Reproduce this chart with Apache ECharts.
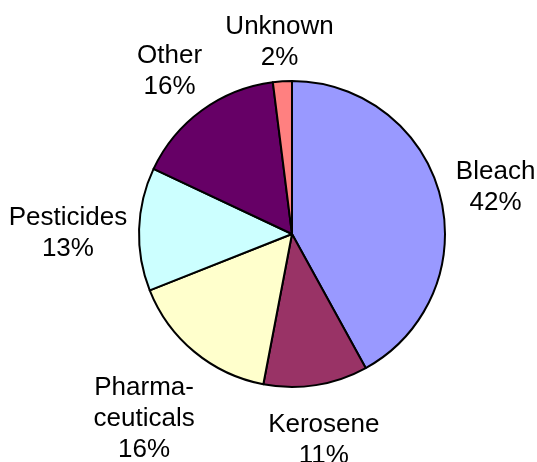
<!DOCTYPE html>
<html style="height: 100%">
<head>
    <meta charset="utf-8">
</head>
<body style="height: 100%; margin: 0; background: #fff">
<div id="container" style="width: 537px; height: 462px"></div>
<script type="text/javascript" src="https://cdn.jsdelivr.net/npm/echarts@6/dist/echarts.min.js"></script>
<script type="text/javascript">
    // data (percent), clockwise from 12 o'clock
    var categories = ['Bleach', 'Kerosene', 'Pharmaceuticals', 'Pesticides', 'Other', 'Unknown'];
    var labelNames = ['Bleach', 'Kerosene', 'Pharma-\nceuticals', 'Pesticides', 'Other', 'Unknown'];
    var values = [42, 11, 16, 13, 16, 2];
    var colors = ['#9999ff', '#993366', '#ffffcc', '#ccffff', '#660066', '#ff8080'];

    var cx = 292, cy = 234, R = 153, gap = 11, yShift = 6;

    var total = 0, cum = [];
    for (var i = 0; i < values.length; i++) {
        cum.push(total);
        total += values[i];
    }

    var dom = document.getElementById("container");
    var myChart = echarts.init(dom);

    var pieData = categories.map(function (c, i) {
        return {name: c, value: values[i], itemStyle: {color: colors[i]}};
    });

    var option = {
        animation: false,
        series: [{
            type: 'pie',
            center: [cx, cy],
            radius: R,
            startAngle: 90,
            clockwise: true,
            data: pieData,
            itemStyle: {
                borderColor: '#000',
                borderWidth: 2
            },
            label: {
                show: true,
                position: 'outside',
                overflow: 'none',
                color: '#000',
                fontFamily: 'Liberation Sans, Arial, sans-serif',
                fontSize: 26,
                lineHeight: 31,
                formatter: function (p) {
                    return labelNames[p.dataIndex] + '\n' + values[p.dataIndex] + '%';
                }
            },
            labelLine: {show: false},
            emphasis: {disabled: true},
            // place labels just outside the pie, like the spreadsheet does
            labelLayout: function (p) {
                var i = p.dataIndex;
                var mid = (cum[i] + values[i] / 2) / total * 2 * Math.PI;
                var ux = Math.sin(mid), uy = -Math.cos(mid);
                var w = p.labelRect.width / 2, h = p.labelRect.height / 2;
                var d = R + gap + Math.abs(ux) * w + Math.abs(uy) * h;
                return {
                    x: cx + ux * d,
                    y: cy + uy * d + yShift,
                    align: 'center',
                    verticalAlign: 'middle',
                    hideOverlap: false
                };
            }
        }]
    };
    myChart.setOption(option);
</script>
</body>
</html>
